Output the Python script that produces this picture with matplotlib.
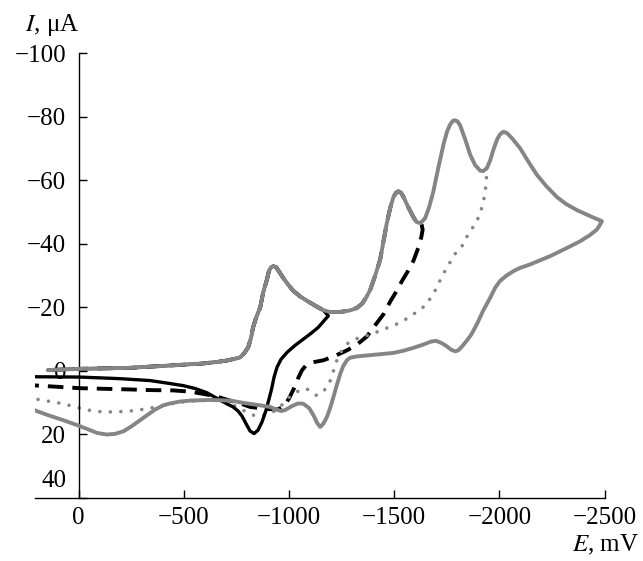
import numpy as np
import matplotlib
matplotlib.use('Agg')
import matplotlib.pyplot as plt
from matplotlib.transforms import ScaledTranslation

plt.rcParams['font.family'] = ['Liberation Serif', 'DejaVu Serif']
plt.rcParams['mathtext.fontset'] = 'stix'

# common forward scan (E in mV, I in uA)
fwd_E = [145, -7, -245, -419, -578, -649, -704, -744, -768, -787, -806, -820, -829,
         -844, -863, -877, -895, -905, -915, -926, -939, -953, -972, -996, -1020,
         -1053, -1091, -1132, -1162, -1195, -1243, -1290, -1323, -1348, -1366, -1386,
         -1409, -1433, -1452, -1465, -1481, -1496, -1509, -1520, -1533, -1544, -1566,
         -1591, -1604, -1615, -1628, -1647, -1666, -1686, -1709, -1734, -1751, -1766,
         -1780, -1790, -1801, -1813, -1837, -1861, -1885, -1909, -1923, -1940, -1956,
         -1972, -1989, -2003, -2019, -2037, -2060, -2098, -2136, -2178, -2222, -2273,
         -2317, -2368, -2431, -2487]
fwd_I = [-0.2, -0.6, -0.9, -1.6, -2.2, -2.7, -3.2, -3.8, -4.2, -5.5, -7.4, -10.5, -13.6,
         -16.8, -19.9, -24.6, -28.7, -31.5, -32.6, -33.0, -32.6, -31.2, -29.3, -27.1, -25.2,
         -23.4, -21.8, -20.2, -19.1, -18.5, -18.5, -19.0, -19.8, -21.2, -23.0, -25.5,
         -29.9, -35.0, -41.9, -46.6, -51.3, -54.7, -56.1, -56.5, -56.0, -54.7, -51.6,
         -48.4, -47.0, -46.6, -46.7, -48.1, -51.6, -56.5, -63.8, -71.3, -75.4, -77.6,
         -78.8, -78.9, -78.5, -77.3, -72.9, -68.0, -64.7, -63.0, -62.9, -63.8, -66.3,
         -69.8, -72.9, -74.5, -75.3, -74.8, -73.2, -70.1, -66.0, -61.7, -58.2, -54.7,
         -52.5, -50.6, -48.7, -47.1]

# reverse scans
black_rev_E = [-1187, -1167, -1138, -1105, -1067, -1029, -991, -962, -943, -929, -917,
               -905, -891, -872, -853, -834, -815, -796, -777, -758, -734, -704, -663,
               -609, -554, -498, -411, -340, -197, -7, 207]
black_rev_I = [-17.3, -15.8, -13.6, -11.8, -9.9, -8.0, -5.8, -3.6, -1.1, 2.0, 5.8,
               8.9, 12.4, 16.1, 18.7, 19.8, 19.0, 16.7, 14.3, 12.7, 11.4, 10.4, 8.9,
               6.9, 5.6, 4.7, 3.8, 3.1, 2.5, 2.0, 1.9]

dash_rev_E = [-1635, -1628, -1614, -1591, -1566, -1538, -1512, -1481, -1449, -1409,
              -1370, -1324, -1275, -1219, -1164, -1116, -1081, -1061, -1043, -1024,
              -1001, -977, -948, -910, -863, -815, -768, -720, -649, -593, -530,
              -451, -340, -245, -7, 215]
dash_rev_I = [-44.4, -41.9, -38.7, -34.6, -31.5, -28.4, -25.2, -21.8, -17.8, -14.3,
              -10.8, -8.3, -6.4, -4.7, -3.3, -2.7, -1.7, -0.1, 2.4, 5.5,
              8.6, 11.1, 12.2, 12.1, 11.8, 11.4, 10.3, 9.4, 8.0, 7.3, 6.6,
              6.2, 6.1, 5.9, 5.5, 4.6]

dot_rev_E = [-1937, -1932, -1925, -1916, -1904, -1893, -1875, -1861, -1842, -1829,
             -1813, -1798, -1775, -1750, -1723, -1703, -1675, -1655, -1623, -1591,
             -1552, -1512, -1471, -1433, -1386, -1338, -1300, -1275, -1252, -1238,
             -1227, -1210, -1195, -1180, -1157, -1132, -1110, -1085, -1053, -1021,
             -996, -973, -943, -910, -872, -831, -806, -783, -744, -696, -657, -578,
             -482, -411, -324, -245, -165, -102, -55, 17, 72, 145, 215]
dot_rev_I = [-59.1, -56.5, -53.8, -51.3, -49.1, -47.1, -45.3, -44.0, -41.9, -39.8,
             -38.7, -37.7, -35.3, -32.4, -29.3, -26.2, -23.3, -20.9, -19.3, -17.8,
             -16.1, -14.7, -13.6, -12.6, -11.4, -10.5, -9.6, -8.4, -6.4, -4.9,
             -3.2, 0.2, 3.3, 5.2, 6.9, 7.8, 7.1, 5.7, 6.1, 7.3,
             8.6, 10.4, 12.1, 13.5, 14.1, 14.0, 13.3, 12.5, 11.1, 9.9, 9.3, 9.4,
             9.9, 10.8, 12.0, 12.7, 13.0, 12.9, 12.5, 11.4, 10.4, 9.6, 8.8]

gray_rev_E = [-2474, -2463, -2431, -2384, -2312, -2241, -2194, -2146, -2098, -2067,
              -2032, -2003, -1980, -1956, -1923, -1893, -1866, -1845, -1823, -1804,
              -1790, -1771, -1747, -1723, -1699, -1675, -1652, -1623, -1585, -1544,
              -1495, -1449, -1386, -1322, -1290, -1275, -1257, -1243, -1224, -1211,
              -1195, -1180, -1162, -1148, -1134, -1116, -1096, -1068, -1043, -1015,
              -981, -962, -939, -910, -863, -791, -720, -625, -530, -482, -435, -403,
              -364, -326, -292, -254, -213, -173, -134, -88, -39, 17, 72, 145, 215]
gray_rev_I = [-45.6, -44.5, -42.8, -40.8, -38.4, -36.1, -34.8, -33.5, -32.4, -31.4,
              -29.9, -28.3, -26.2, -23.0, -19.0, -14.7, -11.4, -9.5, -7.7, -6.4,
              -6.1, -6.6, -7.8, -8.8, -9.4, -9.2, -8.6, -7.9, -7.1, -6.3,
              -5.6, -5.3, -4.9, -4.5, -4.1, -3.3, -1.4, 1.1, 5.2, 8.3,
              11.8, 14.6, 16.8, 17.7, 16.5, 14.0, 11.8, 10.4, 10.3, 11.1,
              12.4, 12.7, 12.2, 11.4, 10.9, 10.2, 9.4, 9.2, 9.4, 9.7, 10.3, 10.9,
              12.2, 14.0, 15.6, 17.4, 19.1, 19.9, 20.1, 19.6, 18.3, 16.9, 15.6, 14.0, 12.3]

x_ticks = [0, -500, -1000, -1500, -2000, -2500]
y_ticks = [-100, -80, -60, -40, -20, 0, 20, 40]


def branch(E_end):
    # forward scan up to the switching potential
    E = np.array(fwd_E)
    I = np.array(fwd_I)
    keep = E >= E_end
    return list(E[keep]), list(I[keep])


def minus(v):
    return str(v).replace('-', '\u2212')


def main():
    fig = plt.figure(figsize=(6.43, 5.61), dpi=100)
    ax = fig.add_axes([35/643, 1-497.7/561, (604.7-35)/643, (497.7-53.3)/561])

    gray = '#858585'

    E, I = branch(-1187)
    ax.plot(E + black_rev_E, I + black_rev_I, color='black', lw=2.4,
            solid_joinstyle='round', solid_capstyle='round', zorder=3)

    E, I = branch(-1628)
    ax.plot(E + dash_rev_E, I + dash_rev_I, color='black', lw=2.8,
            linestyle=(0, (4, 2.3)), zorder=2)

    E, I = branch(-1940)
    ax.plot(E + dot_rev_E, I + dot_rev_I, color=gray, lw=2.6,
            linestyle=(0, (0.01, 2.9)), dash_capstyle='round', zorder=2)

    ax.plot(fwd_E + gray_rev_E, fwd_I + gray_rev_I, color=gray, lw=2.8,
            solid_joinstyle='round', solid_capstyle='round', zorder=4)

    ax.set_xlim(207, -2500)
    ax.set_ylim(40, -100)

    ax.spines['top'].set_visible(False)
    ax.spines['right'].set_visible(False)
    ax.spines['left'].set_position(('data', 0))
    for s in ['left', 'bottom']:
        ax.spines[s].set_linewidth(1.0)

    ax.set_xticks(x_ticks)
    ax.set_xticklabels([minus(v) for v in x_ticks])
    ax.set_yticks(y_ticks)
    ax.set_yticklabels([minus(v) for v in y_ticks])
    ax.tick_params(axis='both', direction='in', length=6, width=1.0,
                   labelsize=18)
    ax.tick_params(axis='y', pad=9)
    ax.tick_params(axis='x', pad=6.5)

    fig.canvas.draw()
    lab = ax.get_yticklabels()[-1]
    lab.set_transform(lab.get_transform() + ScaledTranslation(0, 0.19, fig.dpi_scale_trans))

    fig.text(79/643, 1-25/561, '$I$, \u03bcA', ha='right', va='center', fontsize=18)
    fig.text(639/643, 1-545/561, '$E$, mV', ha='right', va='center', fontsize=18)

    fig.savefig('out.png', dpi=100)


if __name__ == '__main__':
    main()
